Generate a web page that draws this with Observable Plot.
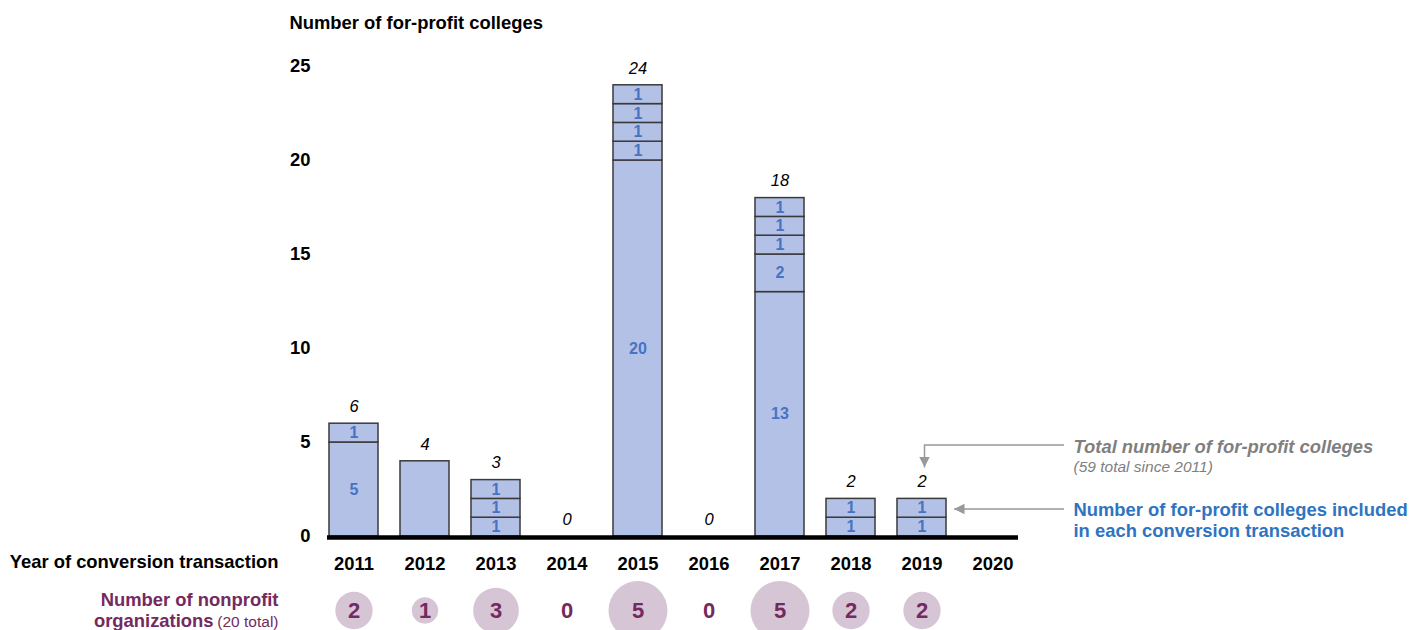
<!DOCTYPE html>
<html><head><meta charset="utf-8">
<script src="https://cdn.jsdelivr.net/npm/d3@7"></script>
<script src="https://cdn.jsdelivr.net/npm/@observablehq/plot@0.6"></script>
<style>
html,body{margin:0;padding:0;background:#fff;}
#chart svg{display:block;}
</style>
</head><body><div id="chart"></div>
<script>
const years = ["2011","2012","2013","2014","2015","2016","2017","2018","2019","2020"];
const transactionYear = ["2011","2011","2012","2013","2013","2013","2015","2015","2015","2015","2015","2017","2017","2017","2017","2017","2018","2018","2019","2019"];
const transactionColleges = [5,1,4,1,1,1,20,1,1,1,1,13,2,1,1,1,1,1,1,1];
const transactionLabel = ["5","1","","1","1","1","20","1","1","1","1","13","2","1","1","1","1","1","1","1"];
const totalColleges = [6,4,3,0,24,0,18,2,2,null];
const nonprofitOrgs = [2,1,3,0,5,0,5,2,2,null];
const yTicks = [0,5,10,15,20,25];

const segments = transactionYear.map((year, i) => ({year, value: transactionColleges[i], label: transactionLabel[i]}));
const yearRows = years.map((year, i) => ({year, total: totalColleges[i], orgs: nonprofitOrgs[i]}));

const FONT = '"Liberation Sans", Arial, Helvetica, sans-serif';
const PURPLE = "#74295f";
const ANN_GRAY = "#7f7f7f";
const ANN_BLUE = "#2e74c0";
const FS = 18.4;

const plot = Plot.plot({
  width: 1411,
  height: 630,
  marginLeft: 327,
  marginRight: 393,
  marginTop: 66,
  marginBottom: 94,
  style: {fontFamily: FONT, background: "white", overflow: "visible", color: "black"},
  x: {domain: years, paddingInner: 0.31, paddingOuter: 0, axis: null},
  y: {domain: [0, 25], axis: null},
  r: {domain: [0, 5], range: [0, 29.5]},
  marks: [
    // y axis tick labels
    Plot.axisY(yTicks, {tickSize: 0, tickPadding: 17, fontSize: FS, fontWeight: "bold", label: null, fill: "black"}),
    // y axis title
    Plot.text(["Number of for-profit colleges"], {frameAnchor: "top-left", textAnchor: "start", lineAnchor: "middle", dx: -38, dy: -43, fontSize: FS, fontWeight: "bold", fill: "black"}),
    // stacked bars
    Plot.barY(segments, {x: "year", y: "value", fill: "#b4c1e6", stroke: "#3a3a3a", strokeWidth: 1.5}),
    Plot.text(segments, Plot.stackY({x: "year", y: "value", text: "label", fill: "#4673c4", fontWeight: "bold", fontSize: 16})),
    // totals
    Plot.text(yearRows.filter(d => d.total != null), {x: "year", y: "total", text: d => String(d.total), dy: -17, fontStyle: "italic", fontSize: 16.5, fill: "black"}),
    // baseline
    Plot.ruleY([0], {stroke: "black", strokeWidth: 4.5, dy: 1}),
    // year labels
    Plot.axisX(years, {tickSize: 0, tickPadding: 20, fontSize: FS, fontWeight: "bold", label: null, fill: "black"}),
    Plot.text(["Year of conversion transaction"], {frameAnchor: "bottom-left", textAnchor: "end", lineAnchor: "middle", dx: -49, dy: 26, fontSize: FS, fontWeight: "bold", fill: "black"}),
    // nonprofit circles
    Plot.dot(yearRows.filter(d => d.orgs > 0), {x: "year", r: "orgs", frameAnchor: "bottom", dy: 74, fill: "#d6c5d5", stroke: "none"}),
    Plot.text(yearRows.filter(d => d.orgs != null), {x: "year", text: d => String(d.orgs), frameAnchor: "bottom", lineAnchor: "middle", dy: 74, fill: PURPLE, fontWeight: "bold", fontSize: 22}),
    Plot.text(["Number of nonprofit"], {frameAnchor: "bottom-left", textAnchor: "end", lineAnchor: "middle", dx: -49, dy: 64, fontSize: FS, fontWeight: "bold", fill: PURPLE}),
    Plot.text(["organizations"], {frameAnchor: "bottom-left", textAnchor: "end", lineAnchor: "middle", dx: -114, dy: 85, fontSize: FS, fontWeight: "bold", fill: PURPLE}),
    Plot.text(["(20 total)"], {frameAnchor: "bottom-left", textAnchor: "end", lineAnchor: "middle", dx: -49, dy: 86, fontSize: 15.5, fill: PURPLE}),
    // annotations
    Plot.text(["Total number of for-profit colleges"], {frameAnchor: "bottom-right", textAnchor: "start", lineAnchor: "middle", dx: 55, dy: -89, fontSize: FS, fontWeight: "bold", fontStyle: "italic", fill: ANN_GRAY}),
    Plot.text(["(59 total since 2011)"], {frameAnchor: "bottom-right", textAnchor: "start", lineAnchor: "middle", dx: 55, dy: -69, fontSize: 15.5, fontStyle: "italic", fill: ANN_GRAY}),
    Plot.text(["Number of for-profit colleges included"], {frameAnchor: "bottom-right", textAnchor: "start", lineAnchor: "middle", dx: 55, dy: -26, fontSize: FS, fontWeight: "bold", fill: ANN_BLUE}),
    Plot.text(["in each conversion transaction"], {frameAnchor: "bottom-right", textAnchor: "start", lineAnchor: "middle", dx: 55, dy: -5, fontSize: FS, fontWeight: "bold", fill: ANN_BLUE})
  ]
});

// Annotation arrows, positioned with the plot's own scales
const xs = plot.scale("x");
const ys = plot.scale("y");
const svg = d3.select(plot);
const bw = xs.bandwidth;
const x2019 = xs.apply("2019");
const frameRight = 1411 - 393;
const y0 = ys.apply(0);
const yTop2019 = ys.apply(2);
const defs = svg.append("defs");
defs.append("marker").attr("id", "arrowhead").attr("viewBox", "0 0 10 10").attr("refX", 10).attr("refY", 5)
  .attr("markerWidth", 7).attr("markerHeight", 7).attr("orient", "auto-start-reverse")
  .append("path").attr("d", "M0,0L10,5L0,10z").attr("fill", "#999");
const ann = svg.append("g").attr("fill", "none").attr("stroke", "#999").attr("stroke-width", 1.5);
const cx = x2019 + bw / 2 + 3;
const yArrow1 = y0 - 91;
ann.append("path").attr("d", `M${frameRight + 46},${yArrow1}H${cx}V${yTop2019 - 31}`).attr("marker-end", "url(#arrowhead)");
const yArrow2 = y0 - 27;
ann.append("path").attr("d", `M${frameRight + 46},${yArrow2}H${x2019 + bw + 8}`).attr("marker-end", "url(#arrowhead)");

document.getElementById("chart").appendChild(plot);
</script>
</body></html>
